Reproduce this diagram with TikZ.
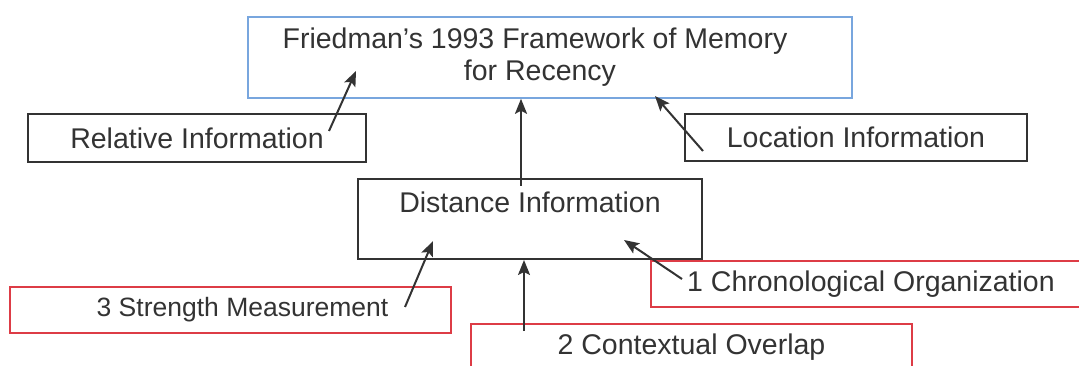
\documentclass[tikz,border=0pt]{standalone}
\usepackage{fontspec}
\setmainfont{Liberation Sans}
\usetikzlibrary{arrows.meta,positioning}
\definecolor{inkgray}{HTML}{333333}
\definecolor{frameblue}{HTML}{78A6DE}
\definecolor{framered}{HTML}{DD3C46}
\tikzset{
  infobox/.style={draw=inkgray, line width=2pt, inner sep=0pt, align=center,
    text=inkgray, font=\fontsize{28.5}{32}\selectfont},
  sourcebox/.style={infobox, draw=framered, line width=1.6pt},
  titlebox/.style={infobox, draw=frameblue, line width=1.6pt},
  arr/.style={-{Stealth[length=15pt, width=12pt, inset=3pt]}, line width=2pt, draw=inkgray}
}
\begin{document}
\begin{tikzpicture}[x=1pt,y=-1pt]
  \useasboundingbox (0,0) rectangle (1079,366);
  % boxes
  \node[titlebox, minimum width=604pt, minimum height=81pt] (frame) at (550,57.5)
    {Friedman's 1993 Framework of Memory\hspace*{30pt}\\for Recency\hspace*{20pt}};
  \node[infobox, minimum width=338pt, minimum height=48pt] (relative) at (197,138) {Relative Information};
  \node[infobox, minimum width=342pt, minimum height=47pt] (location) at (856,137.5) {Location Information};
  \node[infobox, minimum width=344pt, text height=34pt, text depth=46pt] (distance) at (530,219) {Distance Information};
  \node[sourcebox, minimum width=441pt, minimum height=46pt, font=\fontsize{26.5}{30}\selectfont] (strength) at (230.5,310)
    {\hspace*{24pt}3 Strength Measurement};
  \node[sourcebox, minimum width=440pt, minimum height=46pt] (chrono) at (871,284) {1 Chronological Organization};
  \node[sourcebox, minimum width=441pt, minimum height=46pt] (context) at (691.5,347) {2 Contextual Overlap};
  % tails and heads of the slanted arrows
  \coordinate (relTail) at (329,131);
  \coordinate (relHead) at (356,71);
  \coordinate (locTail) at (703,151);
  \coordinate (locHead) at (655,96);
  \coordinate (strTail) at (405,307);
  \coordinate (strHead) at (433,241);
  \coordinate (chrTail) at (682,279);
  \coordinate (chrHead) at (624,240);
  % arrows
  \draw[arr] (relTail) -- (relHead);
  \draw[arr] (locTail) -- (locHead);
  \draw[arr] ([xshift=-9pt,yshift=-8pt]distance.north) -- ([xshift=-29pt]frame.south);
  \draw[arr] (strTail) -- (strHead);
  \draw[arr] ([xshift=-167.5pt,yshift=-8pt]context.north) -- ([xshift=-6pt]distance.south);
  \draw[arr] (chrTail) -- (chrHead);
\end{tikzpicture}
\end{document}
